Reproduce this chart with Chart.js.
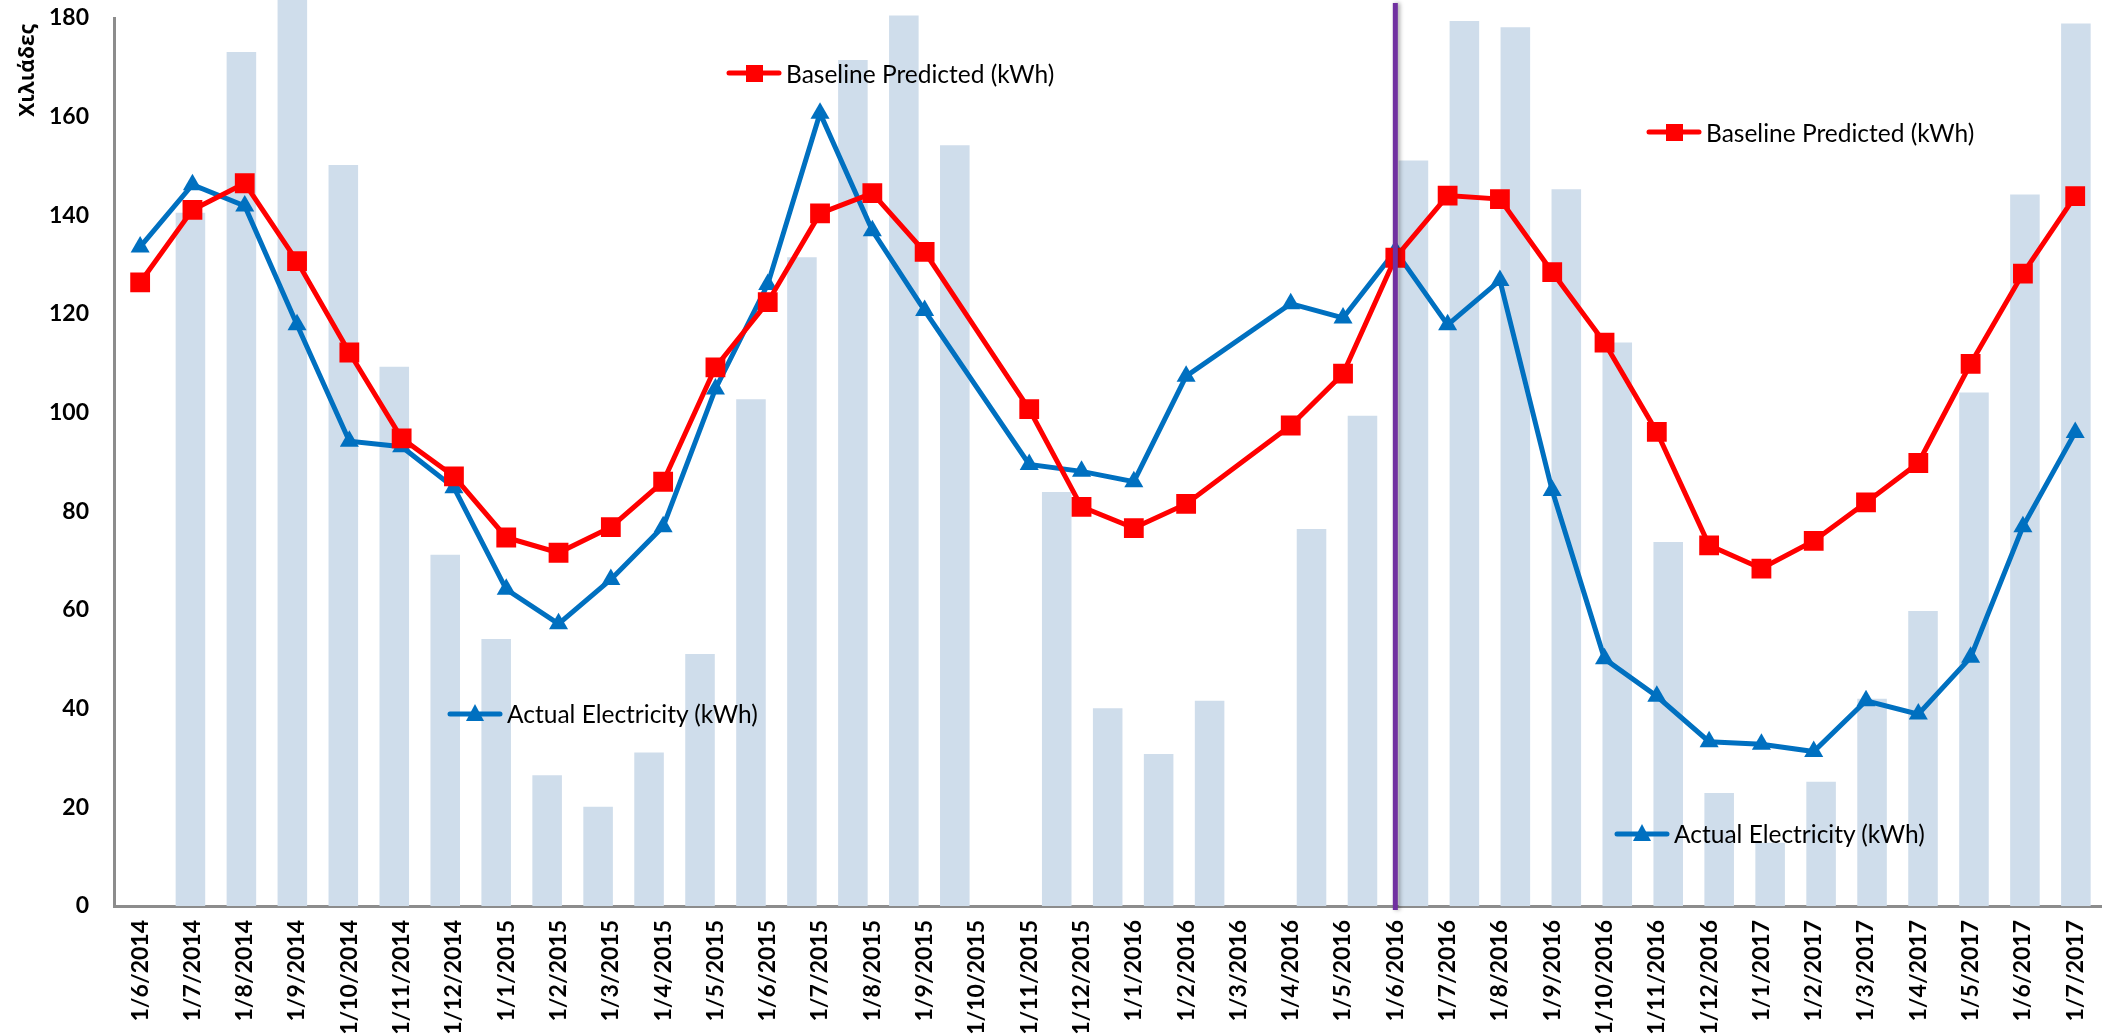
<!DOCTYPE html>
<html>
<head>
<meta charset="utf-8">
<title>Baseline Predicted vs Actual Electricity</title>
<script src="https://cdn.jsdelivr.net/npm/chart.js@4.4.1/dist/chart.umd.min.js"></script>
<style>
  html, body { margin: 0; padding: 0; background: #fff; }
  #wrap { position: relative; width: 2117px; height: 1035px; }
  .key {
    position: absolute; height: 30px;
    display: flex; align-items: center;
    font: 24.5px Lato, sans-serif; color: #000; white-space: nowrap;
  }
  .key svg { margin-right: 3px; }
</style>
</head>
<body>
<div id="wrap">
  <canvas id="chart"></canvas>

  <!-- legend keys, placed by hand like in the original sheet -->
  <div class="key" style="left:725px; top:58px">
    <svg width="58" height="24"><line x1="4" y1="12" x2="54" y2="12" stroke="#FF0000" stroke-width="5" stroke-linecap="round"/><rect x="21" y="4" width="17" height="17" fill="#FF0000"/></svg>
    <span>Baseline Predicted (kWh)</span>
  </div>
  <div class="key" style="left:1645px; top:117px">
    <svg width="58" height="24"><line x1="4" y1="12" x2="54" y2="12" stroke="#FF0000" stroke-width="5" stroke-linecap="round"/><rect x="21" y="4" width="17" height="17" fill="#FF0000"/></svg>
    <span>Baseline Predicted (kWh)</span>
  </div>
  <div class="key" style="left:446px; top:698px">
    <svg width="58" height="24"><line x1="4" y1="13" x2="54" y2="13" stroke="#0070C0" stroke-width="5" stroke-linecap="round"/><polygon points="29,3 38,20 20,20" fill="#0070C0"/></svg>
    <span>Actual Electricity (kWh)</span>
  </div>
  <div class="key" style="left:1613px; top:818px">
    <svg width="58" height="24"><line x1="4" y1="13" x2="54" y2="13" stroke="#0070C0" stroke-width="5" stroke-linecap="round"/><polygon points="29,3 38,20 20,20" fill="#0070C0"/></svg>
    <span>Actual Electricity (kWh)</span>
  </div>
</div>

<script>
// Months on the axis
const months = [
  '1/6/2014', '1/7/2014', '1/8/2014', '1/9/2014', '1/10/2014', '1/11/2014', '1/12/2014',
  '1/1/2015', '1/2/2015', '1/3/2015', '1/4/2015', '1/5/2015', '1/6/2015', '1/7/2015',
  '1/8/2015', '1/9/2015', '1/10/2015', '1/11/2015', '1/12/2015',
  '1/1/2016', '1/2/2016', '1/3/2016', '1/4/2016', '1/5/2016', '1/6/2016', '1/7/2016',
  '1/8/2016', '1/9/2016', '1/10/2016', '1/11/2016', '1/12/2016',
  '1/1/2017', '1/2/2017', '1/3/2017', '1/4/2017', '1/5/2017', '1/6/2017', '1/7/2017'
];

// thousands of kWh
const baseline = [
  126.4, 141.1, 146.5, 130.7, 112.2, 94.8, 87.1, 74.7, 71.6, 76.8, 86.0, 109.2, 122.4,
  140.4, 144.5, 132.6, null, 100.7, 80.9, 76.6, 81.5, null, 97.4, 107.9, 131.4,
  144.0, 143.3, 128.5, 114.2, 96.1, 73.1, 68.4, 74.0, 81.8, 89.8, 109.9, 128.2, 143.9
];
const actual = [
  133.6, 146.2, 141.9, 117.8, 94.2, 93.1, 84.8, 64.2, 57.2, 66.2, 76.9, 104.8, 126.0,
  160.7, 136.9, 120.7, null, 89.5, 88.1, 86.0, 107.4, null, 122.1, 119.2, 132.8,
  117.8, 126.8, 84.2, 50.1, 42.5, 33.3, 32.8, 31.3, 41.6, 38.9, 50.4, 76.9, 96.0
];

// background columns sit on their own (one slot longer) category axis
const barSlots = ['1/5/2014'].concat(months);
const columns = [
  null, 140.5, 173.1, 195.0, 150.2, 109.3, 71.2, 54.1, 26.5, 20.1, 31.1, 51.1, 102.7,
  131.5, 171.5, 180.5, 154.2, null, 83.9, 40.1, 30.8, 41.6, null, 76.4, 99.4, 151.1,
  179.4, 178.1, 145.3, 114.2, 73.8, 22.9, 12.8, 25.2, 42.0, 59.8, 104.1, 144.2, 178.9
];

// vertical marker month
const dividerMonth = '1/6/2016';
const yTitle = 'Χιλιάδες';

const tickFont = { family: 'Lato', size: 23, weight: 'bold' };

// purple divider line
const dividerPlugin = {
  id: 'divider',
  afterDatasetsDraw(chart) {
    const ctx = chart.ctx;
    const area = chart.chartArea;
    const x = chart.scales.x.getPixelForValue(months.indexOf(dividerMonth));
    ctx.save();
    ctx.shadowColor = 'rgba(0, 0, 0, 0.35)';
    ctx.shadowBlur = 4;
    ctx.shadowOffsetX = 2;
    ctx.strokeStyle = '#7030A0';
    ctx.lineWidth = 5;
    ctx.beginPath();
    ctx.moveTo(x, area.top - 15);
    ctx.lineTo(x, area.bottom + 4);
    ctx.stroke();
    ctx.restore();
  }
};

// axis title sits at the top of the value axis, not centred
const yTitlePlugin = {
  id: 'yTitle',
  afterDraw(chart) {
    const ctx = chart.ctx;
    const area = chart.chartArea;
    ctx.save();
    ctx.translate(chart.scales.y.left + 28, area.top + 6);
    ctx.rotate(-Math.PI / 2);
    ctx.textAlign = 'right';
    ctx.textBaseline = 'middle';
    ctx.fillStyle = '#000';
    ctx.font = 'bold 21px "Open Sans"';
    ctx.fillText(yTitle, 0, 0);
    ctx.restore();
  }
};

const data = {
  labels: months,
  datasets: [
    {
      label: 'Baseline Predicted (kWh)',
      data: baseline,
      borderColor: '#FF0000',
      backgroundColor: '#FF0000',
      borderWidth: 5,
      pointStyle: 'rect',
      pointRadius: 14,
      pointBorderWidth: 0,
      spanGaps: true,
      order: 0
    },
    {
      label: 'Actual Electricity (kWh)',
      data: actual,
      borderColor: '#0070C0',
      backgroundColor: '#0070C0',
      borderWidth: 5,
      pointStyle: 'triangle',
      pointRadius: 11,
      pointBorderWidth: 0,
      spanGaps: true,
      order: 1
    },
    {
      type: 'bar',
      label: 'columns',
      data: columns,
      xAxisID: 'xb',
      backgroundColor: 'rgb(207, 221, 235)',
      grouped: false,
      barPercentage: 0.58,
      categoryPercentage: 1,
      clip: { left: 0, top: 25, right: 0, bottom: 0 },
      order: 2
    }
  ]
};

const config = {
  type: 'line',
  data: data,
  options: {
    animation: false,
    responsive: true,
    maintainAspectRatio: false,
    layout: { padding: { left: 0, top: 18, right: 0, bottom: 0 } },
    plugins: {
      legend: { display: false },
      tooltip: { mode: 'index', intersect: false }
    },
    scales: {
      x: {
        type: 'category',
        labels: months,
        offset: true,
        grid: { display: false, drawTicks: false },
        border: { color: '#8c8c8c', width: 3 },
        ticks: { autoSkip: false, minRotation: 90, maxRotation: 90, padding: 14, color: '#000', font: tickFont },
        afterFit(scale) { scale.height = 129; }
      },
      xb: {
        type: 'category',
        labels: barSlots,
        offset: true,
        display: false
      },
      y: {
        min: 0,
        max: 180,
        grid: { display: false, drawTicks: false },
        border: { color: '#8c8c8c', width: 3 },
        ticks: { stepSize: 20, padding: 25, color: '#000', font: tickFont },
        afterFit(scale) {
          scale.width = 114;
          // the tick padding is horizontal only here
          scale.paddingTop = 14;
          scale.paddingBottom = 14;
        }
      }
    }
  },
  plugins: [dividerPlugin, yTitlePlugin]
};

const chart = new Chart(document.getElementById('chart'), config);
</script>
</body>
</html>
